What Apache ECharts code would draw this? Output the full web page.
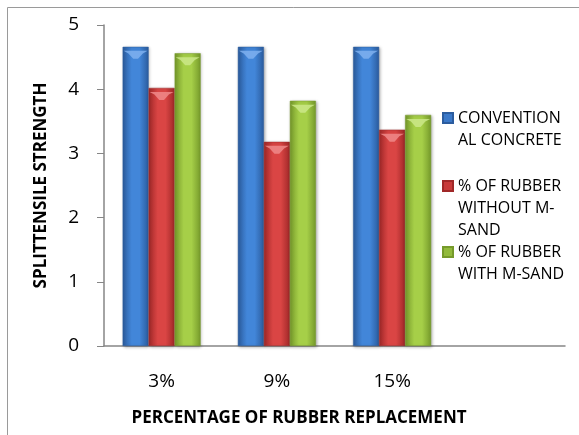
<!DOCTYPE html>
<html>
<head>
<meta charset="utf-8">
<script src="https://cdn.jsdelivr.net/npm/echarts@6/dist/echarts.min.js"></script>
<style>
  html, body { margin: 0; padding: 0; background: #fff; }
  #chart { width: 579px; height: 435px; }
</style>
</head>
<body>
<div id="chart"></div>
<script>
// Split tensile strength by rubber replacement level
const categories = ['3%', '9%', '15%', ''];
const seriesNames = ['CONVENTIONAL CONCRETE', '% OF RUBBER WITHOUT M-SAND', '% OF RUBBER WITH M-SAND'];
const legendLines = [
  ['CONVENTION', 'AL CONCRETE'],
  ['% OF RUBBER', 'WITHOUT M-', 'SAND'],
  ['% OF RUBBER', 'WITH M-SAND']
];
const conventional = [4.66, 4.66, 4.66, null];
const rubberNoMSand = [4.02, 3.18, 3.37, null];
const rubberMSand = [4.56, 3.82, 3.60, null];
const yTicks = [0, 1, 2, 3, 4, 5];

const FONT = '"Open Sans", "Liberation Sans", sans-serif';
const LINE_H = 22;

// edge / centre / top-bevel shades per series
const palettes = [
  { edge: '#2b5c9e', mid: '#4286d9', bevel: '#7fb0ee', icon: '#3a78c8' },
  { edge: '#a02828', mid: '#da4544', bevel: '#ee8a89', icon: '#c83a3a' },
  { edge: '#769a2b', mid: '#a6cf48', bevel: '#cbe88a', icon: '#92ba3c' }
];
const values = [conventional, rubberNoMSand, rubberMSand];

function barGradient(p) {
  return new echarts.graphic.LinearGradient(0, 0, 1, 0, [
    { offset: 0, color: p.edge },
    { offset: 0.35, color: p.mid },
    { offset: 0.65, color: p.mid },
    { offset: 1, color: p.edge }
  ]);
}

const BAR_W = 26;
const series = [];
values.forEach((data, i) => {
  series.push({
    name: seriesNames[i],
    type: 'bar',
    data: data,
    barWidth: BAR_W,
    barGap: '0%',
    itemStyle: {
      color: barGradient(palettes[i]),
      borderColor: palettes[i].edge,
      borderWidth: 0.5,
      shadowBlur: 3,
      shadowOffsetX: 1,
      shadowOffsetY: 1,
      shadowColor: 'rgba(0,0,0,0.3)'
    }
  });
});
// bevelled caps on top of each bar
values.forEach((data, i) => {
  series.push({
    name: seriesNames[i],
    type: 'pictorialBar',
    data: data,
    barWidth: BAR_W,
    barGap: '0%',
    symbol: 'path://M0,0 L10,0 L8,1 L6,3 L4,3 L2,1 Z',
    symbolSize: [BAR_W - 2, 8],
    symbolPosition: 'end',
    symbolOffset: [0, '50%'],
    z: 3,
    silent: true,
    itemStyle: { color: palettes[i].bevel, opacity: 0.85 }
  });
});

// each legend entry is its own component so the wrapped text can start level with the swatch;
// leading blank lines keep the first text line centred on the swatch
const firstLineCentres = [118, 186, 252];
const legends = seriesNames.map((name, i) => {
  const lines = legendLines[i];
  const n = lines.length;
  const pad = new Array(n - 1).fill('\u00a0');
  return {
    data: [{ name: name, icon: 'rect', itemStyle: { color: palettes[i].icon } }],
    left: 442,
    top: firstLineCentres[i] - (2 * n - 1) * LINE_H / 2,
    orient: 'vertical',
    itemWidth: 10,
    itemHeight: 10,
    itemGap: 0,
    padding: 0,
    selectedMode: false,
    formatter: () => pad.concat(lines).join('\n'),
    textStyle: {
      fontFamily: FONT,
      fontSize: 16,
      color: '#000',
      lineHeight: LINE_H
    }
  };
});

const chart = echarts.init(document.getElementById('chart'), null, { renderer: 'canvas' });
chart.setOption({
  animation: false,
  backgroundColor: '#fff',
  grid: { left: 104, right: 14, top: 25, bottom: 89 },
  legend: legends,
  xAxis: {
    type: 'category',
    data: categories,
    axisLine: { lineStyle: { color: '#868686', width: 1.5 } },
    axisTick: { show: false },
    axisLabel: { fontFamily: FONT, fontSize: 19, color: '#000', margin: 26 },
    name: 'PERCENTAGE OF RUBBER REPLACEMENT',
    nameLocation: 'middle',
    nameGap: 64,
    nameTextStyle: {
      fontFamily: FONT, fontSize: 17, fontWeight: 'bold', color: '#000',
      padding: [0, 71, 0, 0]
    }
  },
  yAxis: {
    type: 'value',
    min: yTicks[0],
    max: yTicks[yTicks.length - 1],
    interval: 1,
    splitLine: { show: false },
    axisLine: { show: true, lineStyle: { color: '#868686', width: 1.5 } },
    axisTick: { show: true, length: 7, lineStyle: { color: '#868686' } },
    axisLabel: { fontFamily: FONT, fontSize: 19, color: '#000', margin: 25 },
    name: 'SPLITTENSILE STRENGTH',
    nameLocation: 'middle',
    nameGap: 54,
    nameTextStyle: { fontFamily: FONT, fontSize: 17, fontWeight: 'bold', color: '#000' }
  },
  graphic: [{
    type: 'rect',
    shape: { x: 7.5, y: 7.5, width: 700, height: 600 },
    style: { fill: null, stroke: '#9a9a9a', lineWidth: 1 },
    silent: true,
    z: -1
  }],
  series: series
});
</script>
</body>
</html>
